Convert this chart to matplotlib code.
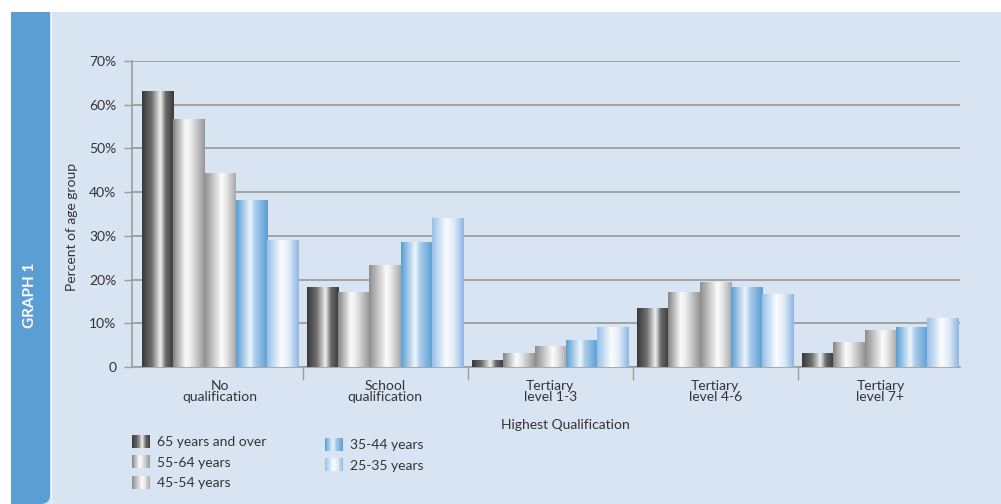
import numpy as np
import matplotlib
matplotlib.use("Agg")
import matplotlib.pyplot as plt
from matplotlib.colors import LinearSegmentedColormap
from matplotlib.patches import Rectangle, FancyBboxPatch
from matplotlib.legend_handler import HandlerBase

# data
categories = ["No\nqualification", "School\nqualification", "Tertiary\nlevel 1-3",
              "Tertiary\nlevel 4-6", "Tertiary\nlevel 7+"]
age_groups = ["65 years and over", "55-64 years", "45-54 years", "35-44 years", "25-35 years"]
pct_65_over = [63.0, 18.3, 1.6, 13.4, 3.1]
pct_55_64 = [56.6, 17.1, 3.2, 17.0, 5.5]
pct_45_54 = [44.3, 23.2, 4.6, 19.3, 8.3]
pct_35_44 = [38.1, 28.5, 6.0, 18.1, 9.0]
pct_25_35 = [29.0, 34.0, 9.1, 16.5, 11.2]
y_ticks = [0, 10, 20, 30, 40, 50, 60, 70]
y_tick_labels = ["0", "10%", "20%", "30%", "40%", "50%", "60%", "70%"]

series = [pct_65_over, pct_55_64, pct_45_54, pct_35_44, pct_25_35]

# metallic look: colour stops across the bar width
shades = [
    [(0.0, "#3a3a3a"), (0.3, "#6e6e6e"), (0.58, "#f0f0f0"), (0.75, "#6a6a6a"), (1.0, "#3c3c3c")],
    [(0.0, "#858585"), (0.4, "#fbfbfb"), (0.55, "#ececec"), (1.0, "#979797")],
    [(0.0, "#8e8e8e"), (0.55, "#fcfcfc"), (0.7, "#e8e8e8"), (1.0, "#a8a8a8")],
    [(0.0, "#5a9fd4"), (0.45, "#eef5fc"), (0.6, "#a9cbeb"), (1.0, "#5b9fd4")],
    [(0.0, "#98c0e8"), (0.45, "#fbfdff"), (0.7, "#dfeaf7"), (1.0, "#8db7e3")],
]
cmaps = [LinearSegmentedColormap.from_list("g%d" % i, s) for i, s in enumerate(shades)]

text_col = "#333333"
grid_col = "#9c9c9c"
bg_col = "#d9e4f3"
band_col = "#5a9ed3"

plt.rcParams['font.family'] = ['Lato', 'DejaVu Sans']

W, H = 1001, 504
fig = plt.figure(figsize=(W / 100, H / 100), dpi=100)
fig.patch.set_facecolor("white")


def fx(px):
    return px / W


def fy(py):
    return 1 - py / H


# panel background and the blue side band (kept below the axes)
fig.patches.append(Rectangle((fx(11), 0), 1 - fx(11), fy(12), transform=fig.transFigure,
                             facecolor=bg_col, edgecolor="none", zorder=-3))
fig.patches.append(Rectangle((fx(11), fy(480)), fx(50) - fx(11), fy(12) - fy(480),
                             transform=fig.transFigure, facecolor=band_col, edgecolor="none", zorder=-2))
fig.patches.append(FancyBboxPatch((11, 0), 39, 40, boxstyle="round,pad=0,rounding_size=9",
                                  transform=None, facecolor=band_col, edgecolor="none", zorder=-2))
fig.patches.append(Rectangle((11, 0), 10, 20, transform=None, facecolor=band_col,
                             edgecolor="none", zorder=-2))
fig.lines.append(plt.Line2D([fx(50.5), fx(50.5)], [0, fy(12)], transform=fig.transFigure,
                            color="#eef4fb", lw=1.0, zorder=-1))
fig.text(fx(30), fy(295), "GRAPH 1", rotation=90, color="white", fontweight="bold",
         fontsize=11, ha="center", va="center")

ax = fig.add_axes([fx(131.5), fy(367), fx(960) - fx(131.5), fy(61) - fy(367)])
ax.set_facecolor("none")

x = np.arange(len(categories))
bw = 0.19
for i, vals in enumerate(series):
    bars = ax.bar(x + (i - 2) * bw, vals, width=bw, color="none", edgecolor="none")
    grad = np.linspace(0, 1, 64).reshape(1, -1)
    for p in bars.patches:
        x0 = p.get_x()
        ax.imshow(grad, cmap=cmaps[i], extent=[x0, x0 + p.get_width(), 0, p.get_height()],
                  aspect="auto", zorder=3, interpolation="bilinear")

ax.set_xlim(-0.536, 4.482)
ax.set_ylim(0, 70)
ax.set_yticks(y_ticks)
ax.set_yticklabels(y_tick_labels)
ax.yaxis.grid(True, color=grid_col, lw=1.3)
ax.set_axisbelow(True)
ax.tick_params(axis="y", length=6, width=1, color=grid_col, pad=5, labelsize=10, labelcolor=text_col)

ax.set_xticks(x)
ax.set_xticklabels(categories, linespacing=0.95)
ax.set_xticks(x[:-1] + 0.5, minor=True)
ax.tick_params(axis="x", which="major", length=0, pad=9, labelsize=10, labelcolor=text_col)
ax.tick_params(axis="x", which="minor", length=9, width=1, color=grid_col)

for s in ["top", "right"]:
    ax.spines[s].set_visible(False)
for s in ["left", "bottom"]:
    ax.spines[s].set_color(grid_col)
    ax.spines[s].set_linewidth(1.2)

fig.text(fx(72), fy(227), "Percent of age group", rotation=90, ha="center", va="center",
         fontsize=10, color=text_col)
fig.text(fx(565), fy(425), "Highest Qualification", ha="center", va="center",
         fontsize=10, color=text_col)


# legend with small gradient swatches
class GradientPatch(Rectangle):
    def __init__(self, cmap):
        super().__init__((0, 0), 1, 1)
        self.cmap = cmap


class GradientHandler(HandlerBase):
    def create_artists(self, legend, orig_handle, xdescent, ydescent, width, height, fontsize, trans):
        n = 24
        out = []
        for k in range(n):
            out.append(Rectangle((-xdescent + width * k / n, -ydescent), width / n * 1.1, height,
                                 facecolor=orig_handle.cmap((k + 0.5) / n), edgecolor="none",
                                 transform=trans))
        return out


proxies = [GradientPatch(c) for c in cmaps]
hmap = {GradientPatch: GradientHandler()}
leg_kw = dict(frameon=False, fontsize=10, handlelength=1.3, handleheight=1.05,
              handletextpad=0.5, labelspacing=0.52, borderpad=0, borderaxespad=0,
              loc="upper left", labelcolor=text_col, handler_map=hmap)
leg1 = fig.legend(proxies[:3], age_groups[:3], bbox_to_anchor=(fx(132), fy(435)), **leg_kw)
leg2 = fig.legend(proxies[3:], age_groups[3:], bbox_to_anchor=(fx(325), fy(438)), **leg_kw)

fig.savefig("out.png", dpi=100, facecolor=fig.get_facecolor())
